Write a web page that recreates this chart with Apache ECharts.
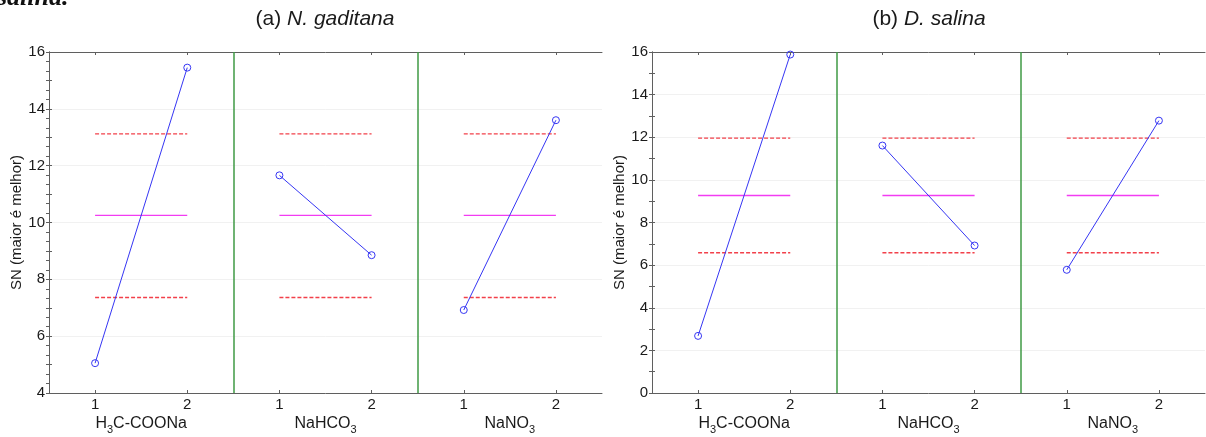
<!DOCTYPE html>
<html>
<head>
<meta charset="utf-8">
<script src="https://cdn.jsdelivr.net/npm/echarts@6/dist/echarts.min.js"></script>
<style>
  html, body { margin: 0; padding: 0; background: #fff; }
  #chart { width: 1206px; height: 437px; }
</style>
</head>
<body>
<div id="chart"></div>
<script>
// Main effects of each factor on the signal-to-noise ratio (larger is better)
const factorNames = ['H3C-COONa', 'NaHCO3', 'NaNO3'];
const levelLabels = ['1', '2'];
const yAxisName = 'SN (maior é melhor)';

// N. gaditana: SN per factor, level 1 and level 2
const snGaditana = [[5.05, 15.45], [11.66, 8.85], [6.92, 13.60]];
const meanGaditana = 10.25;
const limitsGaditana = [7.36, 13.12];
const yRangeGaditana = [4, 16];

// D. salina: SN per factor, level 1 and level 2
const snSalina = [[2.68, 15.88], [11.61, 6.92], [5.78, 12.78]];
const meanSalina = 9.27;
const limitsSalina = [6.58, 11.96];
const yRangeSalina = [0, 16];

const yLabelStep = 2;

const FONT = '"Liberation Sans", Arial, sans-serif';
const TEXT = '#1a1a1a';
const FRAME = '#5f5f5f';
const BLUE = '#3636f4';
const MAGENTA = '#f23cf2';
const RED = '#f2404a';
const GREEN = '#3f9a45';

const panels = [
  { tag: '(a) ', species: 'N. gaditana', sn: snGaditana, mean: meanGaditana,
    limits: limitsGaditana, range: yRangeGaditana, rightMinor: 6,
    grid: { left: 49, right: 604, top: 52, bottom: 44 }, center: 325 },
  { tag: '(b) ', species: 'D. salina', sn: snSalina, mean: meanSalina,
    limits: limitsSalina, range: yRangeSalina, rightMinor: 2,
    grid: { left: 652, right: 1, top: 52, bottom: 44 }, center: 929 }
];

const nLevels = levelLabels.length;
const span = factorNames.length * nLevels;
const levelX = (f, l) => f * nLevels + l + 0.5;
const levelXs = [];
factorNames.forEach((_, f) => levelLabels.forEach((__, l) => levelXs.push(levelX(f, l))));
const factorXs = factorNames.map((_, f) => f * nLevels + nLevels / 2);
const boundaries = factorNames.slice(1).map((_, f) => (f + 1) * nLevels);

// chemical formula digits drawn as subscripts
const formula = name => '{n|' + name.replace(/(\d)/g, '}{s|$1}{n|') + '}';

const titles = [];
const grids = [];
const xAxes = [];
const yAxes = [];
const series = [];

titles.push({
  text: 'salina.', left: -3, top: -15, padding: 0,
  textStyle: { fontFamily: '"Liberation Serif", "Times New Roman", serif', fontStyle: 'italic',
               fontWeight: 'bold', fontSize: 26, color: '#111' }
});

panels.forEach((p, i) => {
  titles.push({
    text: '{n|' + p.tag + '}{i|' + p.species + '}',
    left: p.center, top: 9, padding: 0, textAlign: 'center',
    textStyle: {
      fontWeight: 'normal',
      rich: {
        n: { fontFamily: FONT, fontSize: 21, fontWeight: 'normal', color: TEXT },
        i: { fontFamily: FONT, fontSize: 21, fontWeight: 'normal', fontStyle: 'italic', color: TEXT }
      }
    }
  });
  grids.push(Object.assign({ containLabel: false }, p.grid));

  const xb = xAxes.length;
  // level axis along the bottom edge
  xAxes.push({
    gridIndex: i, type: 'value', min: 0, max: span, position: 'bottom',
    axisLine: { show: true, lineStyle: { color: FRAME, width: 1 } },
    axisTick: { show: true, inside: true, length: 3, customValues: levelXs, lineStyle: { color: FRAME } },
    axisLabel: {
      customValues: levelXs, margin: 4, fontSize: 15, fontFamily: FONT, color: TEXT,
      formatter: v => levelLabels[Math.round(v - 0.5) % nLevels]
    },
    splitLine: { show: false }
  });
  // factor names under each block
  xAxes.push({
    gridIndex: i, type: 'value', min: 0, max: span, position: 'bottom', offset: 22,
    axisLine: { show: false }, axisTick: { show: false }, splitLine: { show: false },
    axisLabel: {
      customValues: factorXs, margin: 0,
      formatter: v => formula(factorNames[Math.round((v - nLevels / 2) / nLevels)]),
      rich: {
        n: { fontFamily: FONT, fontSize: 16, color: TEXT, lineHeight: 18, verticalAlign: 'middle' },
        s: { fontFamily: FONT, fontSize: 11, color: TEXT, lineHeight: 11, padding: [11, 0, 0, 0], verticalAlign: 'middle' }
      }
    }
  });
  // top edge of the frame
  xAxes.push({
    gridIndex: i, type: 'value', min: 0, max: span, position: 'top',
    axisLine: { show: true, lineStyle: { color: FRAME, width: 1 } },
    axisTick: { show: true, inside: true, length: 3, customValues: levelXs, lineStyle: { color: FRAME } },
    axisLabel: { show: false }, splitLine: { show: false }
  });

  const yb = yAxes.length;
  yAxes.push({
    gridIndex: i, type: 'value', min: p.range[0], max: p.range[1], interval: yLabelStep, position: 'left',
    name: yAxisName, nameLocation: 'middle', nameGap: 22,
    nameTextStyle: { fontFamily: FONT, fontSize: 15, color: TEXT },
    axisLine: { show: true, lineStyle: { color: FRAME, width: 1 } },
    axisTick: { show: true, inside: true, length: 3, lineStyle: { color: FRAME } },
    minorTick: { show: true, splitNumber: 2, length: 3, lineStyle: { color: FRAME } },
    axisLabel: { margin: 4, fontSize: 15, fontFamily: FONT, color: TEXT },
    splitLine: { show: true, lineStyle: { color: '#f1f1f1', width: 1 } }
  });
  yAxes.push({
    gridIndex: i, type: 'value', min: p.range[0], max: p.range[1], interval: yLabelStep, position: 'right',
    axisLine: { show: true, lineStyle: { color: FRAME, width: 1 } },
    axisTick: { show: true, inside: true, length: 3, lineStyle: { color: FRAME } },
    minorTick: { show: true, splitNumber: p.rightMinor, length: 3, lineStyle: { color: FRAME } },
    axisLabel: { show: false }, splitLine: { show: false }
  });

  const refLine = (color, type, width, data) => ({
    type: 'line', xAxisIndex: xb, yAxisIndex: yb, symbol: 'none', silent: true, animation: false,
    lineStyle: { color, type, width }, z: 2, data
  });

  factorNames.forEach((_, f) => {
    const xs = levelLabels.map((__, l) => levelX(f, l));
    series.push(refLine(RED, [4, 2], 1.4, xs.map(x => [x, p.limits[1]])));
    series.push(refLine(RED, [4, 2], 1.4, xs.map(x => [x, p.limits[0]])));
    const meanSeries = refLine(MAGENTA, 'solid', 1.4, xs.map(x => [x, p.mean]));
    if (f === 0) {
      meanSeries.markLine = {
        silent: true, symbol: 'none', label: { show: false }, animation: false,
        lineStyle: { color: GREEN, type: 'solid', width: 1.5 },
        data: boundaries.map(b => ({ xAxis: b }))
      };
    }
    series.push(meanSeries);
  });

  p.sn.forEach((vals, f) => {
    series.push({
      type: 'line', xAxisIndex: xb, yAxisIndex: yb, animation: false, z: 5, clip: false,
      symbol: 'circle', symbolSize: 7,
      lineStyle: { color: BLUE, width: 1 },
      itemStyle: { color: 'rgba(255,255,255,0)', borderColor: BLUE, borderWidth: 1 },
      data: vals.map((v, l) => [levelX(f, l), v])
    });
  });
});

const chart = echarts.init(document.getElementById('chart'), null, { renderer: 'canvas' });
chart.setOption({
  backgroundColor: '#fff',
  animation: false,
  title: titles,
  grid: grids,
  xAxis: xAxes,
  yAxis: yAxes,
  series: series
});
</script>
</body>
</html>
